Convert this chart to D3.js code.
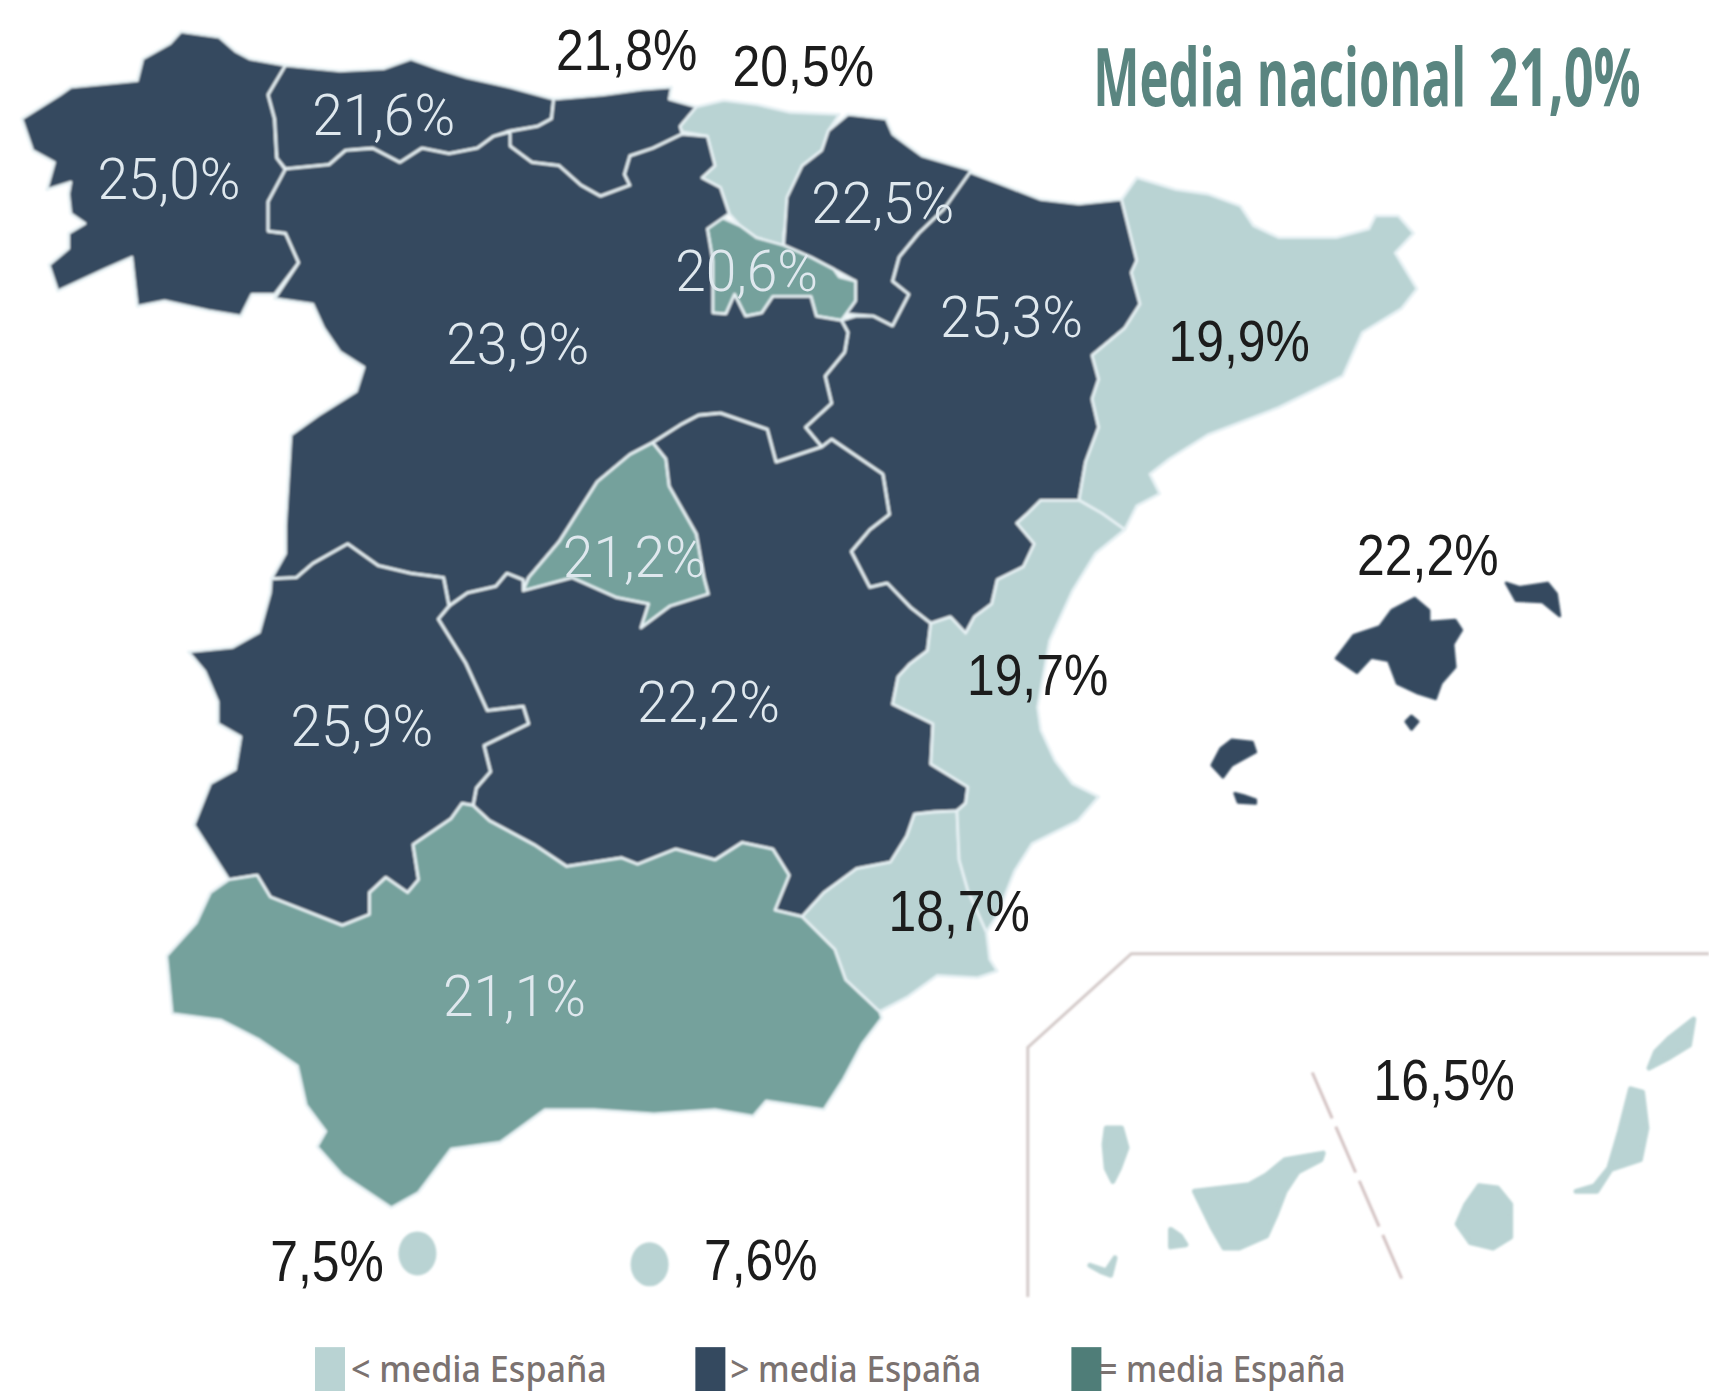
<!DOCTYPE html>
<html>
<head>
    <meta charset="utf-8">
    <title>Media nacional 21,0%</title>
    <script src="https://cdn.jsdelivr.net/npm/d3@7"></script>
    <style>
        html, body { margin: 0; padding: 0; background: #fff; overflow: hidden; }
        svg { display: block; }
    </style>
</head>
<body>
    <div id="map"></div>
    <script>
        // values
        const regions = ["Galicia", "Asturias", "Cantabria", "País Vasco", "Navarra", "La Rioja", "Aragón", "Cataluña",
            "Castilla y León", "Madrid", "Castilla-La Mancha", "Extremadura", "Andalucía", "Murcia", "C. Valenciana", "Baleares", "Canarias", "Ceuta", "Melilla"];
        const rates = [25.0, 21.6, 21.8, 20.5, 22.5, 20.6, 25.3, 19.9, 23.9, 21.2, 22.2, 25.9, 21.1, 18.7, 19.7, 22.2, 16.5, 7.5, 7.6];

        const legendLabels = ["< media España", "> media España", "= media España"];
        const titleLabels = ["Media nacional", "21,0%"];

        // outlines, in the 1568 wide frame
        const outlines = {
            "Galicia": [[[166,29],[201,34],[216,47],[229,54],[262,60],[246,87],[252,109],[254,145],[262,156],[246,185],[246,212],[262,214],[274,241],[252,270],[231,270],[221,290],[191,285],[151,276],[126,281],[121,236],[96,247],[53,267],[45,243],[63,228],[63,214],[78,205],[65,196],[63,178],[65,167],[43,174],[50,149],[30,138],[20,109],[55,87],[65,80],[126,74],[131,54],[156,40]]],
            "Asturias": [[[262,60],[312,65],[352,63],[377,54],[402,63],[428,71],[468,80],[508,91],[506,109],[493,116],[468,120],[453,125],[438,136],[412,141],[387,136],[367,149],[342,136],[317,138],[302,151],[262,155],[254,145],[252,109],[246,87]]],
            "Cantabria": [[[508,91],[553,87],[589,82],[616,80],[614,91],[639,98],[624,116],[626,123],[599,136],[578,143],[573,160],[578,170],[551,180],[533,170],[513,152],[488,149],[468,134],[465,121],[493,116],[506,109]]],
            "País Vasco": [[[639,98],[664,92],[695,96],[725,103],[770,105],[760,120],[754,138],[736,152],[728,181],[719,214],[719,226],[694,218],[679,207],[669,196],[661,172],[644,163],[656,152],[649,125],[626,121],[624,116]]],
            "Navarra": [[[778,105],[813,109],[819,123],[831,132],[846,143],[890,156],[890,160],[866,192],[843,214],[825,236],[819,258],[834,270],[819,299],[801,290],[775,288],[781,268],[785,258],[765,247],[744,236],[719,225],[722,181],[736,152],[754,138],[760,120]]],
            "La Rioja": [[[649,210],[661,199],[679,207],[694,218],[719,225],[744,236],[765,247],[770,254],[785,258],[785,276],[772,294],[749,290],[744,272],[709,272],[699,287],[684,290],[674,270],[666,288],[654,287],[654,239]]],
            "Aragón": [[[890,158],[919,169],[955,183],[990,187],[1029,183],[1043,239],[1038,250],[1046,279],[1032,301],[1002,326],[1008,348],[1002,366],[1008,392],[996,424],[990,459],[955,459],[943,471],[933,480],[949,499],[939,520],[915,532],[910,554],[894,566],[886,581],[872,566],[854,572],[835,557],[814,535],[798,539],[781,506],[798,486],[816,472],[810,435],[763,403],[754,410],[739,392],[763,370],[757,345],[775,323],[778,305],[772,294],[785,290],[801,290],[819,299],[834,270],[819,258],[825,236],[843,214],[866,192]]],
            "Cataluña": [[[1029,183],[1043,163],[1079,174],[1108,178],[1138,189],[1150,207],[1173,218],[1226,218],[1256,210],[1262,198],[1283,198],[1297,214],[1280,232],[1300,265],[1286,283],[1250,305],[1232,345],[1173,374],[1108,399],[1073,421],[1055,435],[1064,453],[1043,464],[1032,486],[1011,471],[990,459],[996,424],[1008,392],[1002,366],[1008,348],[1002,326],[1032,301],[1046,279],[1038,250],[1043,239]]],
            "Castilla y León": [[[262,155],[302,151],[317,138],[342,136],[367,149],[387,136],[412,141],[438,136],[453,125],[468,121],[468,134],[488,149],[513,152],[533,170],[551,180],[578,170],[573,160],[578,143],[599,136],[626,123],[649,125],[656,152],[644,163],[661,172],[669,196],[649,210],[654,239],[654,287],[666,288],[674,270],[684,290],[699,287],[709,272],[744,272],[749,290],[772,294],[778,305],[775,323],[757,345],[763,370],[739,392],[754,410],[712,424],[704,394],[661,379],[641,381],[624,390],[599,406],[578,417],[548,442],[513,497],[485,530],[480,542],[480,532],[465,526],[455,538],[429,544],[412,556],[407,530],[377,526],[347,519],[319,499],[287,517],[272,530],[249,531],[262,508],[262,482],[267,399],[292,381],[327,359],[334,337],[312,323],[297,301],[287,279],[252,274],[274,241],[262,214],[246,212],[246,185]]],
            "Madrid": [[[599,406],[611,421],[614,446],[639,490],[646,530],[650,545],[615,556],[588,576],[595,554],[565,548],[525,530],[480,542],[485,530],[513,497],[548,442],[578,417]]],
            "Castilla-La Mancha": [[[736,841],[711,835],[724,803],[709,779],[681,773],[656,789],[620,779],[585,793],[570,787],[520,795],[490,775],[449,753],[434,739],[437,723],[450,708],[444,684],[485,664],[480,648],[447,652],[427,608],[402,568],[412,556],[429,544],[455,538],[465,526],[480,532],[480,542],[525,530],[565,548],[595,554],[588,576],[615,556],[650,545],[646,530],[639,490],[614,446],[611,421],[599,406],[624,390],[641,381],[661,379],[704,394],[712,424],[754,410],[763,403],[810,435],[816,472],[798,486],[781,506],[798,539],[814,535],[835,557],[854,572],[851,597],[835,609],[824,621],[819,646],[856,664],[854,701],[888,722],[886,737],[878,744],[857,745],[839,747],[832,767],[817,791],[786,797],[756,819]]],
            "Extremadura": [[[249,531],[272,530],[287,517],[319,499],[347,519],[377,526],[407,530],[412,556],[402,568],[427,608],[447,652],[480,648],[485,664],[444,684],[450,708],[437,723],[434,739],[424,737],[414,751],[379,775],[384,807],[374,819],[354,805],[339,819],[339,839],[314,849],[248,823],[236,803],[210,807],[178,757],[193,719],[216,706],[221,676],[200,664],[200,644],[188,616],[173,598],[213,594],[238,580],[248,544]]],
            "Andalucía": [[[210,807],[193,819],[180,847],[153,877],[158,930],[203,936],[238,954],[273,978],[281,1014],[299,1038],[291,1052],[314,1078],[359,1108],[384,1094],[414,1054],[459,1048],[500,1018],[545,1018],[600,1022],[656,1018],[691,1024],[703,1010],[756,1018],[774,990],[791,958],[809,934],[807,928],[776,899],[766,871],[736,841],[711,835],[724,803],[709,779],[681,773],[656,789],[620,779],[585,793],[570,787],[520,795],[490,775],[449,753],[434,739],[424,737],[414,751],[379,775],[384,807],[374,819],[354,805],[339,819],[339,839],[314,849],[248,823],[236,803]]],
            "Murcia": [[[736,841],[756,819],[786,797],[817,791],[832,767],[839,747],[857,745],[878,744],[880,789],[888,817],[896,835],[905,855],[908,880],[915,891],[897,897],[860,895],[832,915],[807,928],[776,899],[766,871]]],
            "C. Valenciana": [[[955,459],[990,459],[1011,471],[1032,486],[1005,508],[984,542],[963,588],[952,649],[955,670],[968,698],[984,719],[1008,731],[989,753],[947,774],[931,799],[925,814],[915,840],[905,855],[896,835],[888,817],[880,789],[878,744],[886,737],[888,722],[854,701],[856,664],[819,646],[824,621],[835,609],[851,597],[854,572],[872,566],[886,581],[894,566],[910,554],[915,532],[939,520],[949,499],[933,480],[943,471]]],
            "Baleares": [
                [[1298,549],[1311,560],[1311,571],[1335,569],[1341,578],[1333,591],[1335,612],[1322,627],[1317,641],[1301,636],[1282,627],[1274,606],[1258,603],[1245,617],[1226,604],[1242,583],[1266,575],[1277,560]],
                [[1382,535],[1394,539],[1420,535],[1428,545],[1431,565],[1415,552],[1391,551],[1386,542]],
                [[1295,657],[1301,662],[1295,669],[1290,662]],
                [[1130,679],[1149,681],[1152,690],[1130,702],[1122,713],[1112,702],[1120,687]],
                [[1133,728],[1141,730],[1152,734],[1152,737],[1136,736]]
            ],
            "Canarias": [
                [[1015,1035],[1029,1035],[1034,1053],[1027,1072],[1021,1084],[1015,1072],[1013,1050]],
                [[1096,1093],[1146,1087],[1162,1078],[1179,1064],[1214,1058],[1212,1064],[1191,1075],[1179,1093],[1171,1114],[1162,1134],[1137,1145],[1123,1145],[1112,1126]],
                [[1074,1128],[1083,1134],[1088,1142],[1074,1144]],
                [[1000,1161],[1015,1166],[1023,1154],[1019,1170],[1011,1167]],
                [[1357,1088],[1374,1090],[1386,1105],[1386,1135],[1370,1145],[1349,1140],[1337,1123],[1345,1105]],
                [[1496,999],[1507,1002],[1511,1035],[1505,1064],[1478,1073],[1465,1093],[1446,1093],[1463,1088],[1476,1072],[1486,1038]],
                [[1554,935],[1550,959],[1532,970],[1513,980],[1519,965],[1532,952]]
            ]
        };

        // where each figure sits (centre of the text), same frame
        const labelAt = {
            "Galicia": [155,163], "Asturias": [352,105], "Cantabria": [575,45], "País Vasco": [737,60], "Navarra": [810,185],
            "La Rioja": [685,248], "Aragón": [928,290], "Cataluña": [1137,312], "Castilla y León": [475,315], "Madrid": [582,510],
            "Castilla-La Mancha": [650,643], "Extremadura": [332,665], "Andalucía": [472,913], "Murcia": [880,835],
            "C. Valenciana": [952,618], "Baleares": [1310,508], "Canarias": [1325,990], "Ceuta": [300,1156], "Melilla": [698,1155]
        };
        const darkText = ["Cantabria", "País Vasco", "Cataluña", "Murcia", "C. Valenciana", "Baleares", "Canarias", "Ceuta", "Melilla"];

        const enclaves = { "Ceuta": [383,1150], "Melilla": [596,1160] };

        const insetFrame = [[943,1190],[943,961],[1038,875],[1568,875]];
        const insetDivider = [[1204,984],[1286,1173]];

        const width = 1709;
        const height = 1391;
        const k = width / 1568;

        const svg = d3.select("#map").append("svg")
            .attr("width", width)
            .attr("height", height)
            .attr("viewBox", "0 0 " + width + " " + height);

        svg.append("filter").attr("id", "soft")
            .append("feGaussianBlur").attr("stdDeviation", 0.8);

        const x = d3.scaleLinear().domain([0, 1568]).range([0, width]);
        const y = d3.scaleLinear().domain([0, 1276]).range([0, 1276 * k]);

        // three bands around the national mean
        const band = d3.scaleThreshold()
            .domain([20.55, 21.4])
            .range(["#b9d3d3", "#74a19c", "#34495f"]);
        const legendColor = ["#b9d3d3", "#34495f", "#4f7d78"];

        const projection = d3.geoIdentity().scale(k);
        const path = d3.geoPath().projection(projection);

        const features = regions.filter(function (d) { return outlines[d]; }).map(function (d) {
            return {
                type: "Feature",
                properties: { name: d, rate: rates[regions.indexOf(d)] },
                geometry: {
                    type: "MultiPolygon",
                    coordinates: outlines[d].map(function (ring) { return [ring.concat([ring[0]])]; })
                }
            };
        });

        const map = svg.append("g").attr("filter", "url(#soft)");

        // islands get a stroke in their own colour, which rounds them off
        map.selectAll("path.region")
            .data(features)
            .enter()
            .append("path")
            .attr("class", "region")
            .attr("d", path)
            .attr("fill", function (d) { return band(d.properties.rate); })
            .attr("stroke", function (d) {
                const island = d.properties.name == "Canarias" || d.properties.name == "Baleares";
                return island ? band(d.properties.rate) : "#e6f0f3";
            })
            .attr("stroke-width", function (d) { return d.properties.name == "Canarias" ? 5 : d.properties.name == "Baleares" ? 3 : 2.8; })
            .attr("stroke-linejoin", "round");

        map.selectAll("ellipse")
            .data(Object.keys(enclaves))
            .enter()
            .append("ellipse")
            .attr("cx", function (d) { return x(enclaves[d][0]); })
            .attr("cy", function (d) { return y(enclaves[d][1]); })
            .attr("rx", 19)
            .attr("ry", 22)
            .attr("fill", function (d) { return band(rates[regions.indexOf(d)]); });

        const line = d3.line().x(function (d) { return x(d[0]); }).y(function (d) { return y(d[1]); });

        map.append("path")
            .attr("d", line(insetFrame))
            .attr("fill", "none")
            .attr("stroke", "#d3c9c8")
            .attr("stroke-width", 3);

        map.append("path")
            .attr("d", line(insetDivider))
            .attr("fill", "none")
            .attr("stroke", "#d3c2c2")
            .attr("stroke-width", 3)
            .attr("stroke-dasharray", "50 9");

        // percent figures, roboto runs narrower so it gets less squeeze
        const fmt = d3.format(".1f");
        svg.append("g").selectAll("text")
            .data(regions)
            .enter()
            .append("text")
            .attr("transform", function (d) {
                const p = labelAt[d];
                const sx = darkText.indexOf(d) >= 0 ? 0.86 : 0.95;
                return "translate(" + x(p[0]) + "," + (y(p[1]) + 21) + ") scale(" + sx + ",1)";
            })
            .attr("text-anchor", "middle")
            .attr("font-family", function (d) { return darkText.indexOf(d) >= 0 ? "'Liberation Sans', Arial, sans-serif" : "Roboto, 'Liberation Sans', sans-serif"; })
            .attr("font-weight", function (d) { return darkText.indexOf(d) >= 0 ? 400 : 300; })
            .attr("font-size", 58)
            .attr("fill", function (d) { return darkText.indexOf(d) >= 0 ? "#1c1c1c" : "#dfe8ee"; })
            .text(function (d) { return fmt(rates[regions.indexOf(d)]).replace(".", ",") + "%"; });

        // squeeze a text to a target width, keeps its box honest
        function fitText(sel, px, py, target) {
            sel.each(function (d, i) {
                const natural = this.getComputedTextLength();
                const w = typeof target == "function" ? target(d, i) : target;
                const left = typeof px == "function" ? px(d, i) : px;
                d3.select(this).attr("transform", "translate(" + left + "," + py + ") scale(" + (w / natural) + ",1)");
            });
        }

        // title
        svg.append("text")
            .attr("font-family", "'Open Sans', sans-serif")
            .attr("font-weight", 700)
            .attr("font-size", 80)
            .attr("fill", "#5a8580")
            .text(titleLabels[0])
            .call(fitText, x(1003), y(97), 373);
        svg.append("text")
            .attr("font-family", "'Open Sans', sans-serif")
            .attr("font-weight", 700)
            .attr("font-size", 80)
            .attr("fill", "#5a8580")
            .text(titleLabels[1])
            .call(fitText, x(1366), y(97), 152);

        // legend
        const legendX = d3.scaleOrdinal().domain(legendLabels).range([289, 638, 983]);
        const legendTextX = d3.scaleOrdinal().domain(legendLabels).range([322, 670, 1008]);
        const legendTextW = d3.scaleOrdinal().domain(legendLabels).range([256, 251, 247]);

        const legend = svg.append("g").selectAll("g")
            .data(legendLabels)
            .enter()
            .append("g");

        legend.append("rect")
            .attr("x", function (d) { return x(legendX(d)); })
            .attr("y", y(1236))
            .attr("width", 30)
            .attr("height", 46)
            .attr("fill", function (d, i) { return legendColor[i]; });

        legend.append("text")
            .attr("font-family", "'Noto Sans', sans-serif")
            .attr("font-weight", 500)
            .attr("font-size", 36)
            .attr("fill", "#7b7270")
            .text(function (d) { return d; })
            .call(fitText, function (d) { return x(legendTextX(d)); }, y(1268), function (d) { return legendTextW(d); });
    </script>
</body>
</html>
